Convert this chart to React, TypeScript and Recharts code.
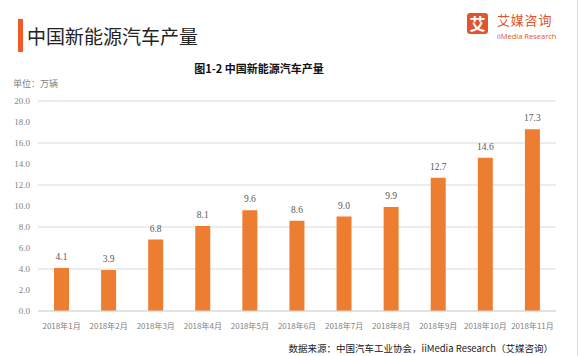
import React from "react";
import { BarChart, Bar, XAxis, YAxis, CartesianGrid, LabelList } from "recharts";

// 中国新能源汽车产量（万辆）
const months = [
  "2018年1月", "2018年2月", "2018年3月", "2018年4月", "2018年5月", "2018年6月",
  "2018年7月", "2018年8月", "2018年9月", "2018年10月", "2018年11月",
];
const output = [4.1, 3.9, 6.8, 8.1, 9.6, 8.6, 9.0, 9.9, 12.7, 14.6, 17.3];
const yTicks = [0, 2, 4, 6, 8, 10, 12, 14, 16, 18, 20];

const data = months.map((m, i) => ({ month: m, value: output[i] }));

const CJK = '"Noto Sans CJK SC", "Noto Sans", sans-serif';
const NUM = '"Liberation Serif", "Noto Sans CJK SC", serif';

export default function App() {
  return (
    <div style={{ position: "absolute", left: 0, top: 0, width: 580, height: 356, background: "#fff", fontFamily: CJK }}>
      {/* page title */}
      <div style={{ position: "absolute", left: 18, top: 19, width: 5, height: 33, background: "#f05a28" }} />
      <div style={{ position: "absolute", left: 27, top: 23, fontSize: 19, lineHeight: "26px", color: "#222" }}>
        中国新能源汽车产量
      </div>

      {/* logo */}
      <div style={{ position: "absolute", left: 467, top: 13, width: 21, height: 21, borderRadius: 3, background: "#e0552f", color: "#fff", fontSize: 16, lineHeight: "21px", textAlign: "center", fontWeight: 700 }}>
        艾
      </div>
      <div style={{ position: "absolute", left: 497, top: 12, fontSize: 13, lineHeight: "16px", color: "#e0552f", letterSpacing: 0.8 }}>
        艾媒咨询
      </div>
      <div style={{ position: "absolute", left: 497, top: 32, fontSize: 7.5, lineHeight: "9px", color: "#e0552f", fontFamily: '"Open Sans", sans-serif' }}>
        iiMedia Research
      </div>

      {/* chart title + unit */}
      <div style={{ position: "absolute", left: 0, width: 518, top: 60, textAlign: "center", fontSize: 11, fontWeight: 700, color: "#111" }}>
        图1-2 中国新能源汽车产量
      </div>
      <div style={{ position: "absolute", left: 13, top: 77, fontSize: 9, color: "#7f7f7f" }}>单位：万辆</div>

      <BarChart
        width={580}
        height={356}
        data={data}
        margin={{ top: 101, right: 24, left: 0, bottom: 15 }}
        style={{ position: "absolute", left: 0, top: 0 }}
      >
        <CartesianGrid vertical={false} stroke="#d9d9d9" />
        <XAxis
          dataKey="month"
          height={30}
          tickLine={false}
          axisLine={{ stroke: "#d9d9d9" }}
          tickMargin={6}
          interval={0}
          tick={{ fontSize: 8, fill: "#7f7f7f", fontFamily: CJK }}
        />
        <YAxis
          width={38}
          domain={[0, 20]}
          ticks={yTicks}
          tickFormatter={(v: number) => v.toFixed(1)}
          axisLine={false}
          tickLine={false}
          tick={{ fontSize: 9, fill: "#7f7f7f", fontFamily: NUM }}
        />
        <Bar dataKey="value" fill="#ed7d31" barSize={15} isAnimationActive={false}>
          <LabelList
            dataKey="value"
            position="top"
            offset={8}
            formatter={(v: number) => v.toFixed(1)}
            style={{ fontSize: 9.5, fill: "#595959", fontFamily: NUM }}
          />
        </Bar>
      </BarChart>

      <div style={{ position: "absolute", right: 27, top: 341, fontSize: 9.5, color: "#222" }}>
        数据来源：中国汽车工业协会，iiMedia Research（艾媒咨询）
      </div>
      <div style={{ position: "absolute", left: 577, top: 0, width: 1, height: 356, background: "#ddd" }} />
    </div>
  );
}
